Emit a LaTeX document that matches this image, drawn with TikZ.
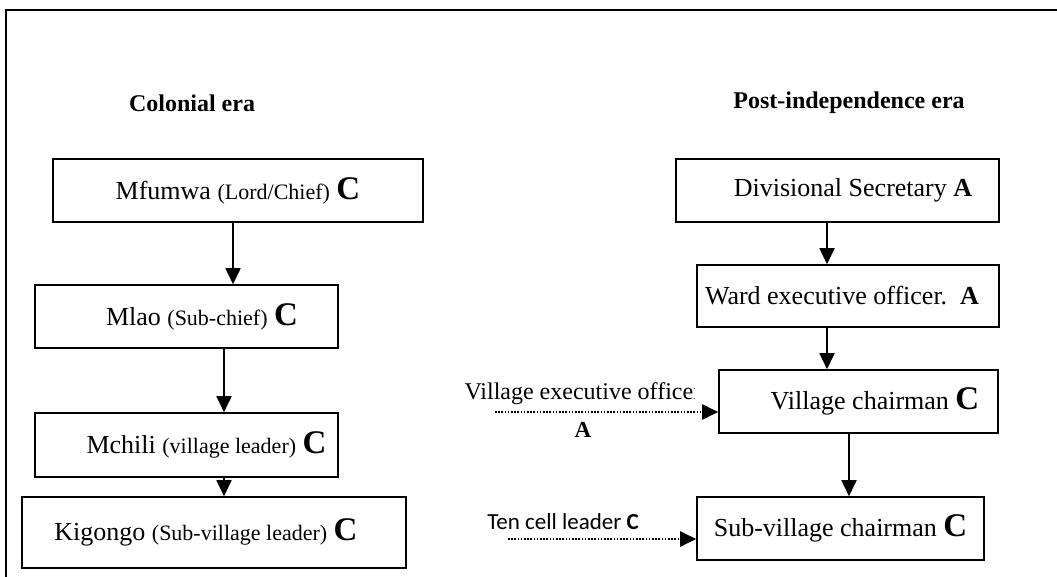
\documentclass[tikz,border=0pt]{standalone}
\usepackage{fontspec}
\setmainfont{Liberation Serif}
\newfontfamily\calibri{Carlito}
\usetikzlibrary{arrows.meta, positioning}

\newcommand{\parn}[1]{{\fontsize{22}{26}\selectfont #1}}
\newcommand{\rank}[1]{{\bfseries\fontsize{33}{38}\selectfont #1}}

\begin{document}
\begin{tikzpicture}[x=1pt, y=-1pt,
        box/.style={draw, line width=1.6pt, minimum height=63pt, inner sep=0pt,
            font=\fontsize{26}{31}\selectfont},
        head/.style={font=\bfseries\fontsize{24}{29}\selectfont},
        arr/.style={line width=1.8pt, -{Triangle[length=16pt, width=15pt]}},
        dotarr/.style={line width=2pt, dash pattern=on 1.6pt off 1.6pt, -{Triangle[length=16pt, width=15pt]}}]
        \useasboundingbox (0,0) rectangle (1057,577);
        \draw[line width=1.6pt] (6,577) -- (6,10) -- (1057,10);

        % colonial era
        \node[head] (colonial) at (192,103) {Colonial era};
        \node[box, minimum width=370pt] (mfumwa) at (238,190.5) {Mfumwa \parn{(Lord/Chief)} \rank{C}};
        \node[box, minimum width=303pt] (mlao) at (186.5,316.5) {\hspace*{31pt}Mlao \parn{(Sub-chief)} \rank{C}};
        \node[box, minimum width=303pt, minimum height=64pt] (mchili) at (186.5,445) {\hspace*{40pt}Mchili \parn{(village leader)} \rank{C}};
        \node[box, minimum width=384pt, minimum height=71pt] (kigongo) at (214,532.5) {Kigongo \parn{(Sub-village leader)} \rank{C}\hspace*{16pt}};

        \draw[arr] ([xshift=-5pt]mfumwa.south) -- ([xshift=-5pt]mfumwa.south |- mlao.north);
        \draw[arr] ([xshift=37.5pt]mlao.south) -- ([xshift=37.5pt]mlao.south |- mchili.north);
        \draw[arr] ([xshift=37.5pt]mchili.south) -- ([xshift=37.5pt]mchili.south |- kigongo.north);

        % post-independence era
        \node[head] (post) at (849,103) {Post-independence era};
        \node[box, minimum width=323pt] (divsec) at (837.5,190.5) {\hspace*{31pt}Divisional Secretary \textbf{A}};
        \node[box, minimum width=302pt, minimum height=62pt] (ward) at (848,296) {Ward executive officer.\ \ \textbf{A}\hspace*{12pt}};
        \node[box, minimum width=279pt] (vchair) at (858.5,401.5) {\hspace*{33pt}Village chairman \rank{C}};
        \node[box, minimum width=287pt] (subchair) at (840.5,528.5) {Sub-village chairman \rank{C}};

        \draw[arr] ([xshift=-10.5pt]divsec.south) -- ([xshift=-10.5pt]divsec.south |- ward.north);
        \draw[arr] ([xshift=-21pt]ward.south) -- ([xshift=-21pt]ward.south |- vchair.north);
        \draw[arr] ([xshift=-9.5pt]vchair.south) -- ([xshift=-9.5pt]vchair.south |- subchair.north);

        % side entries
        \begin{scope}
            \clip (440,375) rectangle (694,410);
            \node[font=\fontsize{24}{28}\selectfont, anchor=west] (vexo) at (461,394) {Village executive officer};
        \end{scope}
        \node[font=\bfseries\fontsize{23}{27}\selectfont] (vexoa) at (583,430) {A};
        \coordinate (vexostart) at (495,412);
        \draw[dotarr] (vexostart) -- (vexostart -| vchair.west);

        \node[font=\calibri\fontsize{23}{27}\selectfont] (tencell) at (563,522) {Ten cell leader \textbf{C}};
        \coordinate (tencellstart) at (508,539);
        \draw[dotarr] (tencellstart) -- (tencellstart -| subchair.west);
\end{tikzpicture}
\end{document}
